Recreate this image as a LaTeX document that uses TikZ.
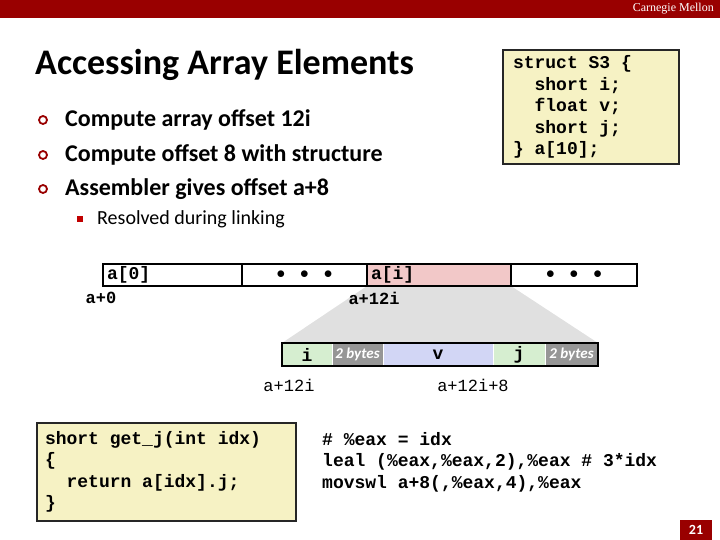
\documentclass[tikz,border=0pt]{standalone}
\usepackage{fontspec}
\setsansfont{Carlito}
\setmonofont{Liberation Mono}
\newfontfamily\cmufont{Liberation Serif}
\usepackage{tikz}
\usetikzlibrary{positioning, backgrounds}
\definecolor{cmured}{RGB}{153,0,0}
\definecolor{subred}{RGB}{192,0,0}
\definecolor{codeyellow}{RGB}{246,242,196}
\definecolor{aipink}{RGB}{242,200,200}
\definecolor{shortgreen}{RGB}{214,238,208}
\definecolor{floatblue}{RGB}{210,214,245}
\definecolor{padgray}{RGB}{150,150,150}
\definecolor{zoomgray}{RGB}{224,224,224}
\newcommand{\codeind}{\hphantom{xx}}
\newcommand{\monospc}{\spaceskip=\fontdimen2\font\relax}
\newcommand{\mono}{\fontsize{18}{21.5}\selectfont\ttfamily\bfseries}
\tikzstyle{cell} = [draw, line width=2pt, outer sep=0pt, inner sep=0pt, minimum height=22pt, font=\mono]
\tikzstyle{field} = [draw=white, line width=1pt, outer sep=0pt, inner sep=0pt, minimum height=23pt, font=\mono]
\tikzstyle{pad} = [field, fill=padgray, text=white, font=\fontsize{15}{15}\selectfont\sffamily\bfseries\itshape]
\tikzstyle{codebox} = [draw=black!85, line width=2pt, fill=codeyellow, anchor=north west, align=left, inner xsep=10pt, inner ysep=0pt, font=\mono]
\tikzstyle{addr} = [inner sep=0pt, font=\fontsize{17}{17}\selectfont\ttfamily]
\tikzstyle{ring} = [circle, draw=cmured, line width=1.8pt, minimum size=8pt, inner sep=0pt]

\begin{document}
\begin{tikzpicture}[x=1pt, y=-1pt]
        \useasboundingbox (0,0) rectangle (720,540);
        % header and slide title
        \fill[cmured] (0,0) rectangle (720,18);
        \node[anchor=east, text=white, inner sep=0pt, font=\fontsize{12}{12}\selectfont\cmufont] (cmu) at (714,9) {Carnegie Mellon};
        \node[anchor=west, inner sep=0pt, font=\fontsize{36}{36}\selectfont\sffamily\bfseries] (title) at (35,65) {Accessing Array Elements};
        \node[ring] (b1) at (43,120) {};
        \node[ring] (b2) at (43,155) {};
        \node[ring] (b3) at (43,189) {};
        \node[anchor=west, inner sep=0pt, font=\fontsize{24}{24}\selectfont\sffamily\bfseries] (t1) at (65,120) {Compute array offset 12i};
        \node[anchor=west, inner sep=0pt, font=\fontsize{24}{24}\selectfont\sffamily\bfseries] (t2) at (65,155) {Compute offset 8 with structure};
        \node[anchor=west, inner sep=0pt, font=\fontsize{24}{24}\selectfont\sffamily\bfseries] (t3) at (65,189) {Assembler gives offset a+8};
        \node[fill=subred, minimum size=5.5pt, inner sep=0pt] (b4) at (80,219) {};
        \node[anchor=west, inner sep=0pt, font=\fontsize{20}{20}\selectfont\sffamily] (t4) at (97,219) {Resolved during linking};
        % struct declaration
        \node[codebox, minimum width=176pt, minimum height=114pt, text width=156pt] (decl) at (502,49) {\monospc struct S3 \{\\ \codeind short i;\\ \codeind float v;\\ \codeind short j;\\ \} a[10];};
        % array a
        \node[cell, anchor=north west, minimum width=139pt, text width=131pt, align=left] (a0) at (103,264) {a[0]};
        \node[cell, right=0pt of a0, minimum width=125pt] (dots1) {$\bullet$\hspace{15pt}$\bullet$\hspace{15pt}$\bullet$};
        \node[cell, right=0pt of dots1, fill=aipink, minimum width=144pt, text width=136pt, align=left] (ai) {a[i]};
        \node[cell, right=0pt of ai, minimum width=126pt] (dots2) {$\bullet$\hspace{15pt}$\bullet$\hspace{15pt}$\bullet$};
        \node[addr, font=\fontsize{17}{17}\selectfont\ttfamily\bfseries] (off0) at (101,298) {a+0};
        \node[addr, font=\fontsize{17}{17}\selectfont\ttfamily\bfseries] (offi) at (374,298) {a+12i};
        % layout of a[i]
        \node[field, anchor=north west, fill=shortgreen, minimum width=50pt] (fi) at (282,343) {i};
        \node[pad, right=0pt of fi, minimum width=51pt] (pad1) {2 bytes};
        \node[field, right=0pt of pad1, fill=floatblue, minimum width=110pt] (fv) {v};
        \node[field, right=0pt of fv, fill=shortgreen, minimum width=52pt] (fj) {j};
        \node[pad, right=0pt of fj, minimum width=53pt] (pad2) {2 bytes};
        \draw[line width=2pt] (fi.north west) rectangle (pad2.south east);
        \begin{scope}[on background layer]
            \fill[zoomgray] (ai.south west) -- (ai.south east) -- (pad2.north east) -- (fi.north west) -- cycle;
        \end{scope}
        \node[addr] (offs) at (289,385) {a+12i};
        \node[addr] (offj) at (473,385) {a+12i+8};
        % C code and assembly
        \node[codebox, minimum width=259pt, minimum height=98pt, text width=243pt, inner xsep=8pt] (getj) at (36,422) {\monospc short get\_j(int idx)\\ \{\\ \codeind return a[idx].j;\\ \}};
        \node[anchor=west, align=left, inner sep=0pt, font=\mono] (asm) at (322,462) {\monospc \# \%eax = idx\\ leal (\%eax,\%eax,2),\%eax \# 3*idx\\ movswl a+8(,\%eax,4),\%eax};
        % page number
        \node[fill=cmured, text=white, minimum width=32pt, minimum height=20pt, inner sep=0pt, font=\fontsize{14}{14}\selectfont\sffamily\bfseries] (page) at (696,530) {21};
    \end{tikzpicture}
\end{document}
